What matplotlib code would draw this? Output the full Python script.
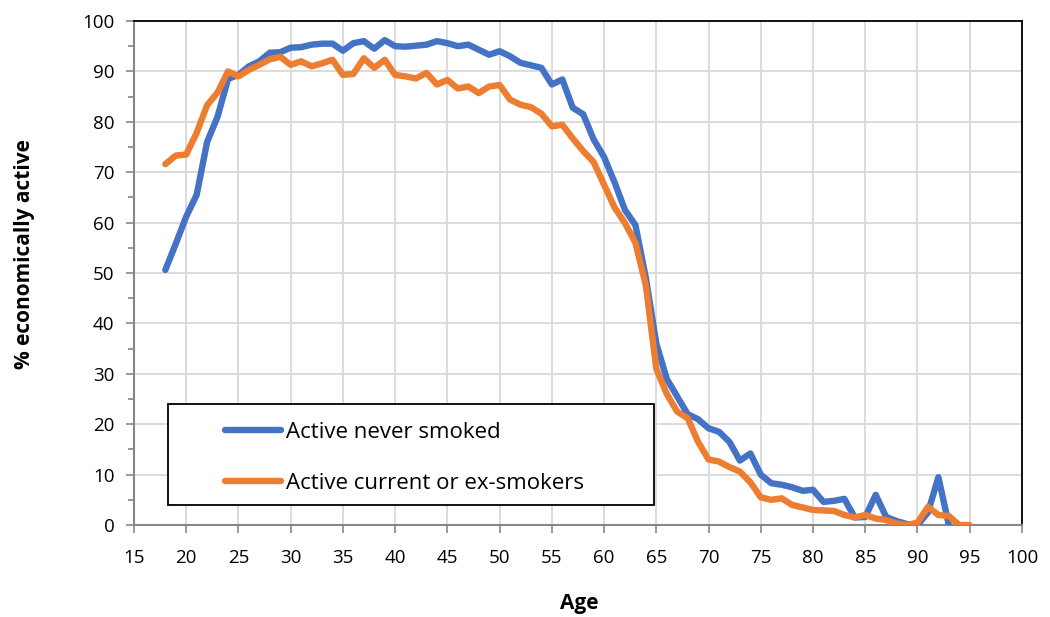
import matplotlib
matplotlib.use("Agg")
import matplotlib.pyplot as plt
from matplotlib.ticker import MultipleLocator
from matplotlib.patches import Rectangle

# ages 18..95
ages = list(range(18, 96))

# Active never smoked (ends at 93)
never_smoked = [
    50.6, 55.8, 61.2, 65.5, 76.0, 81.0, 88.5, 89.3, 91.0, 92.0,   # 18-27
    93.7, 93.8, 94.7, 94.8, 95.3, 95.5, 95.5, 94.1, 95.6, 96.0,   # 28-37
    94.5, 96.2, 95.0, 94.9, 95.1, 95.3, 96.0, 95.6, 95.0, 95.3,   # 38-47
    94.3, 93.3, 94.0, 93.0, 91.7, 91.2, 90.7, 87.4, 88.4, 82.8,   # 48-57
    81.5, 76.5, 73.0, 68.0, 62.5, 59.5, 49.0, 36.0, 29.0, 25.5,   # 58-67
    22.0, 21.0, 19.2, 18.5, 16.5, 12.8, 14.2, 10.0, 8.3, 8.0,     # 68-77
    7.5, 6.8, 7.0, 4.6, 4.8, 5.2, 1.5, 1.6, 6.0, 1.6,             # 78-87
    0.8, 0.2, 0.0, 2.5, 9.5, 0.0,                                 # 88-93
]

# Active current or ex-smokers
smokers = [
    71.6, 73.3, 73.5, 77.8, 83.3, 85.8, 90.0, 89.0, 90.3, 91.3,   # 18-27
    92.4, 92.9, 91.3, 92.0, 91.0, 91.6, 92.3, 89.3, 89.5, 92.6,   # 28-37
    90.7, 92.3, 89.3, 89.0, 88.6, 89.7, 87.4, 88.3, 86.6, 87.0,   # 38-47
    85.7, 87.0, 87.3, 84.4, 83.4, 82.9, 81.6, 79.1, 79.4, 76.7,   # 48-57
    74.2, 72.0, 67.5, 63.0, 59.9, 56.0, 47.5, 31.0, 26.0, 22.5,   # 58-67
    21.2, 16.5, 13.0, 12.6, 11.5, 10.6, 8.5, 5.5, 5.0, 5.3,       # 68-77
    4.0, 3.5, 3.0, 2.9, 2.8, 2.0, 1.5, 2.0, 1.3, 1.0,             # 78-87
    0.3, 0.0, 0.5, 3.6, 2.0, 1.8, 0.0, 0.0,                       # 88-95
]

series_labels = ["Active never smoked", "Active current or ex-smokers"]

plt.rcParams['font.family'] = ['Open Sans', 'DejaVu Sans']

fig = plt.figure(figsize=(10.5, 6.17), dpi=100)
ax = fig.add_axes([0.1276, 0.149, 0.8457, 0.817])

ax.plot(ages[:len(never_smoked)], never_smoked, color='#4472C4', lw=4.6,
        solid_joinstyle='round', solid_capstyle='round', label=series_labels[0], zorder=3)
ax.plot(ages, smokers, color='#ED7D31', lw=4.6,
        solid_joinstyle='round', solid_capstyle='round', label=series_labels[1], zorder=3)

ax.set_xlim(15, 100)
ax.set_ylim(0, 100)
ax.xaxis.set_major_locator(MultipleLocator(5))
ax.yaxis.set_major_locator(MultipleLocator(10))
ax.yaxis.set_minor_locator(MultipleLocator(5))
ax.grid(True, which='major', color='#D9D9D9', lw=1.3, zorder=0)
ax.set_axisbelow(True)

for s in ['top', 'right']:
    ax.spines[s].set_color('black')
    ax.spines[s].set_linewidth(1.3)
for s in ['left', 'bottom']:
    ax.spines[s].set_color('#868686')
    ax.spines[s].set_linewidth(1.5)

ax.tick_params(axis='both', which='both', direction='out', colors='#868686',
               labelcolor='black', width=1.2)
ax.tick_params(axis='both', which='major', length=6, labelsize=13.5)
ax.tick_params(axis='x', which='major', pad=11)
ax.tick_params(axis='y', which='major', pad=8)
ax.tick_params(axis='y', which='minor', length=4)

ax.set_xlabel("Age", fontsize=15, fontweight='bold')
ax.set_ylabel("% economically active", fontsize=15, fontweight='bold')
ax.xaxis.set_label_coords(0.502, -0.135)
ax.yaxis.set_label_coords(-0.112, 0.538)

# legend box drawn as its own rectangle, legend itself without frame
ax.add_patch(Rectangle((0.038, 0.04), 0.548, 0.2, transform=ax.transAxes,
                       facecolor='white', edgecolor='black', lw=1.3, zorder=4))
leg = ax.legend(loc='upper left', bbox_to_anchor=(0.1025, 0.204),
                fontsize=16, frameon=False,
                handlelength=2.5, handletextpad=0.25, borderpad=0,
                labelspacing=1.32, borderaxespad=0)
leg.set_zorder(5)

fig.savefig("out.png", dpi=100)
